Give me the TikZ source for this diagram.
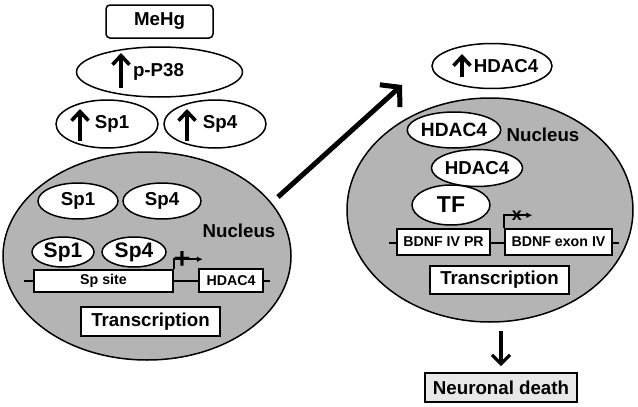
\documentclass[tikz,border=0pt]{standalone}
\usepackage{fontspec}
\setmainfont{Liberation Sans}
\usetikzlibrary{shapes.geometric,arrows.meta}
\definecolor{nucgray}{RGB}{180,180,180}
\definecolor{deathgray}{RGB}{232,232,232}
\begin{document}
\begin{tikzpicture}[x=1pt,y=-1pt,
  every node/.style={font=\bfseries\fontsize{18.7}{20}\selectfont, inner sep=0pt},
  oval/.style={draw, ellipse, fill=white, line width=1.5pt},
  nuc/.style={draw, ellipse, fill=nucgray, line width=1.5pt},
  gbox/.style={draw, fill=white, line width=1.5pt, font=\bfseries\fontsize{14.2}{16}\selectfont},
  tbox/.style={draw, fill=white, line width=1.9pt, minimum width=139pt},
  lbl/.style={},
  uparr/.style={line width=3.6pt, -{Straight Barb[length=9pt,width=17pt]}},
  promo/.style={line width=1.6pt, -{Latex[length=6pt,width=6pt]}},
  dna/.style={line width=1.5pt}
]
\useasboundingbox (0,0) rectangle (638,407);

% ---------- left ----------
\node[draw, rounded corners=4pt, line width=1.5pt, minimum width=107pt, minimum height=33pt] (mehg) at (159.5,21.5) {MeHg};

\node[oval, minimum width=166pt, minimum height=50pt] (pp38) at (159.5,72) {};
\node[lbl] (pp38t) at (158.5,72) {p-P38};
\draw[uparr] (121,88) -- (121,53);

\node[oval, minimum width=102pt, minimum height=48pt] (sp1a) at (107,124) {};
\node[lbl] (sp1at) at (112,124) {Sp1};
\draw[uparr] (80,141) -- (80,109);

\node[oval, minimum width=102pt, minimum height=48pt] (sp4a) at (215,124) {};
\node[lbl] (sp4at) at (220,124) {Sp4};
\draw[uparr] (187,141) -- (187,109);

\node[nuc, minimum width=288pt, minimum height=208pt] (nucL) at (147,256) {};
\node[oval, minimum width=80pt, minimum height=36pt] (sp1b) at (78,201) {Sp1};
\node[oval, minimum width=78pt, minimum height=36pt] (sp4b) at (162,201) {Sp4};
\node[lbl] (nucLt) at (239,231) {Nucleus};
\node[oval, minimum width=62pt, minimum height=30pt, font=\bfseries\fontsize{21}{22}\selectfont] (sp1c) at (63,252) {Sp1};
\node[oval, minimum width=64pt, minimum height=30pt, font=\bfseries\fontsize{21}{22}\selectfont] (sp4c) at (134,252) {Sp4};

\coordinate (dnaLa) at (24,281);
\coordinate (dnaLb) at (270,281);
\draw[dna] (dnaLa) -- (dnaLb);
\node[gbox, minimum width=139pt, minimum height=22pt] (spsite) at (103.5,281) {Sp site};
\node[gbox, minimum width=64pt, minimum height=23pt] (hdL) at (231,280.5) {HDAC4};
\draw[promo] (spsite.north east) -- ++(0,-10) -- ++(29,0);
\node[font=\bfseries\fontsize{29}{30}\selectfont] (plus) at (182,260) {+};

\node[tbox, minimum height=29pt] (transL) at (150.5,321.5) {Transcription};

% ---------- big arrow ----------
\coordinate (bigA) at (278,197);
\coordinate (bigB) at (402,85);
\draw[line width=5pt, -{Straight Barb[length=13pt,width=30pt]}] (bigA) -- (bigB);

% ---------- right ----------
\node[oval, minimum width=120pt, minimum height=45pt] (hdtop) at (492,66) {};
\node[lbl] (hdtopt) at (506,66) {HDAC4};
\draw[uparr] (462,77) -- (462,54);

\node[nuc, minimum width=286pt, minimum height=224pt] (nucR) at (490,210) {};
\node[oval, minimum width=90pt, minimum height=36pt, font=\bfseries\fontsize{19.2}{20}\selectfont] (hd1) at (454,130) {HDAC4};
\node[lbl] (nucRt) at (543,135) {Nucleus};
\node[oval, minimum width=79pt, minimum height=37pt] (hd2) at (477,168) {HDAC4};
\node[oval, minimum width=78pt, minimum height=40pt, font=\bfseries\fontsize{23}{24}\selectfont] (tf) at (451,205) {TF};

\coordinate (dnaRa) at (389,243);
\coordinate (dnaRb) at (619,243);
\draw[dna] (dnaRa) -- (dnaRb);
\node[gbox, minimum width=93pt, minimum height=26pt] (bpr) at (443.5,242) {BDNF IV PR};
\node[gbox, minimum width=107pt, minimum height=26pt] (bex) at (558.5,242) {BDNF exon IV};
\draw[promo] (bex.north west) -- ++(0,-13) -- ++(28,0);
\node[font=\bfseries\fontsize{18}{19}\selectfont] (xmark) at (517,216) {x};

\node[tbox, minimum height=28pt] (transR) at (499.5,280) {Transcription};

\coordinate (downA) at (501,331);
\node[draw, fill=deathgray, line width=1.9pt, minimum width=152pt, minimum height=29pt] (death) at (501,387.5) {Neuronal death};
\draw[line width=3.2pt, -{Straight Barb[length=9pt,width=18pt]}, shorten >=6pt] (downA) -- (death.north);
\end{tikzpicture}
\end{document}
